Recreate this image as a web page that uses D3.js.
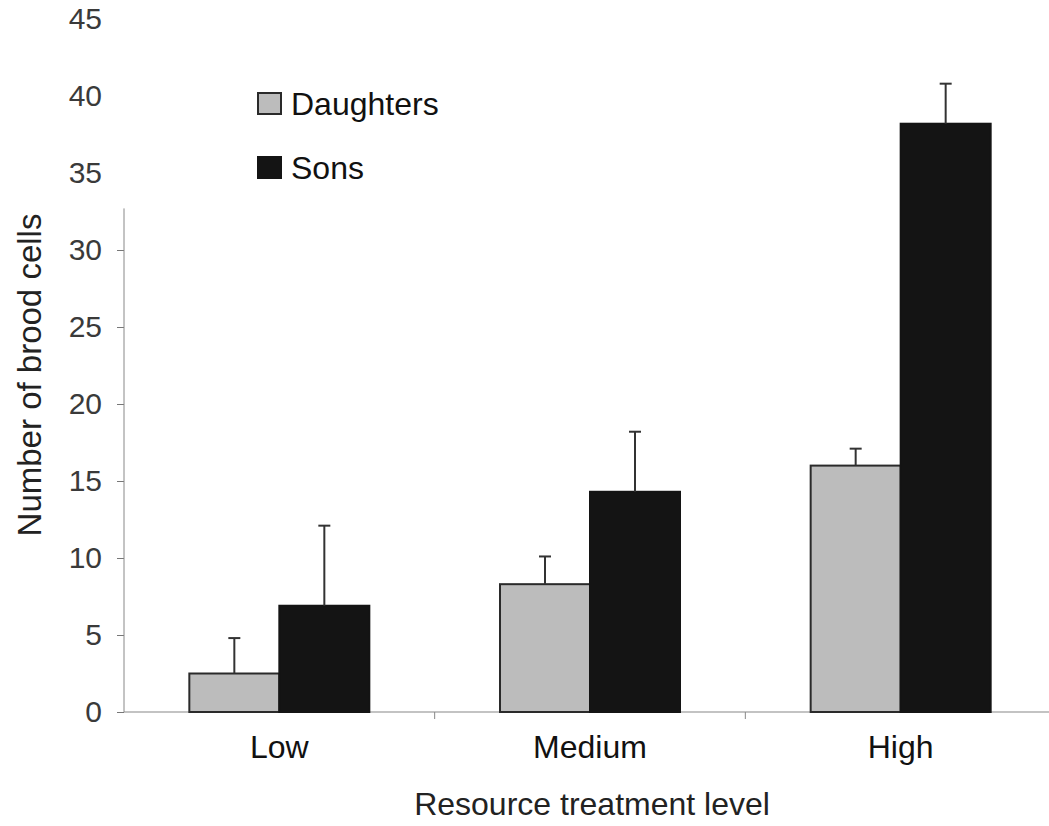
<!DOCTYPE html>
<html>
<head>
<meta charset="utf-8" />
<style>
    body { margin: 0; background: #fff; }
    svg text { font-family: "Liberation Sans", Arial, Helvetica, sans-serif; }
    .tick text { fill: #3a3a3a; font-size: 30px; }
    .axis-title { fill: #222; font-size: 32px; }
    .cat { fill: #111; font-size: 32px; }
    .legend text { fill: #111; font-size: 32px; }
</style>
</head>
<body>
<div id="chart"></div>
<script src="https://d3js.org/d3.v7.min.js"></script>
<script>
    var levels = ["Low", "Medium", "High"];
    var groups = ["Daughters", "Sons"];
    var daughters = [2.5, 8.3, 16.0];
    var daughtersErr = [4.8, 10.1, 17.1];
    var sons = [6.9, 14.3, 38.2];
    var sonsErr = [12.1, 18.2, 40.8];
    var yTicks = [0, 5, 10, 15, 20, 25, 30, 35, 40, 45];

    var width = 1049, height = 826;

    var svg = d3.select('#chart').append('svg')
        .attr('width', width)
        .attr('height', height);

    var x = d3.scaleBand()
        .domain(levels)
        .range([124, 1056])
        .padding(0);

    var y = d3.scaleLinear()
        .domain([0, 45])
        .range([712, 19]);

    var bw = x.bandwidth();
    var x1 = d3.scaleBand()
        .domain(groups)
        .range([bw / 2 - 90, bw / 2 + 90])
        .padding(0);

    var fills = { Daughters: '#bcbcbc', Sons: '#141414' };
    var strokes = { Daughters: '#2a2a2a', Sons: '#141414' };

    var rows = levels.map(function(l, i) {
        return [
            { level: l, group: 'Daughters', value: daughters[i], err: daughtersErr[i] },
            { level: l, group: 'Sons', value: sons[i], err: sonsErr[i] }
        ];
    });
    var flat = [].concat.apply([], rows);

    // y axis (the scan only shows tick marks up to 30)
    var yAxis = svg.append('g')
        .attr('transform', 'translate(124,0)')
        .call(d3.axisLeft(y).tickValues(yTicks).tickSize(7).tickPadding(15));
    yAxis.select('.domain').remove();
    yAxis.selectAll('.tick line')
        .attr('stroke', '#777')
        .style('display', function(d) { return d > 30 ? 'none' : null; });

    svg.append('line')
        .attr('x1', 124).attr('x2', 124)
        .attr('y1', y(32.7)).attr('y2', y(0))
        .attr('stroke', '#888').attr('stroke-width', 1);

    // x axis
    var xAxis = svg.append('g')
        .attr('transform', 'translate(0,' + y(0) + ')');
    xAxis.append('line')
        .attr('x1', 124).attr('x2', width)
        .attr('stroke', '#888').attr('stroke-width', 1.2);
    xAxis.selectAll('.sep')
        .data(levels.slice(1))
        .enter().append('line')
        .attr('class', 'sep')
        .attr('x1', function(d) { return x(d); })
        .attr('x2', function(d) { return x(d); })
        .attr('y1', 0).attr('y2', 7)
        .attr('stroke', '#888');
    xAxis.selectAll('.cat')
        .data(levels)
        .enter().append('text')
        .attr('class', 'cat')
        .attr('x', function(d) { return x(d) + bw / 2; })
        .attr('y', 46)
        .attr('text-anchor', 'middle')
        .text(function(d) { return d; });

    // bars
    svg.append('g').selectAll('rect')
        .data(flat)
        .enter().append('rect')
        .attr('x', function(d) { return x(d.level) + x1(d.group); })
        .attr('y', function(d) { return y(d.value); })
        .attr('width', x1.bandwidth())
        .attr('height', function(d) { return y(0) - y(d.value); })
        .attr('fill', function(d) { return fills[d.group]; })
        .attr('stroke', function(d) { return strokes[d.group]; })
        .attr('stroke-width', 2);

    // error bars (upper only)
    var eb = svg.append('g').selectAll('g')
        .data(flat)
        .enter().append('g')
        .attr('transform', function(d) {
            return 'translate(' + (x(d.level) + x1(d.group) + x1.bandwidth() / 2) + ',0)';
        });
    eb.append('line')
        .attr('y1', function(d) { return y(d.value); })
        .attr('y2', function(d) { return y(d.err); })
        .attr('stroke', '#333').attr('stroke-width', 2);
    eb.append('line')
        .attr('x1', -6).attr('x2', 6)
        .attr('y1', function(d) { return y(d.err); })
        .attr('y2', function(d) { return y(d.err); })
        .attr('stroke', '#333').attr('stroke-width', 2);

    // axis titles
    svg.append('text')
        .attr('class', 'axis-title')
        .attr('transform', 'translate(41,375) rotate(-90)')
        .attr('text-anchor', 'middle')
        .style('font-size', '33px')
        .text('Number of brood cells');

    svg.append('text')
        .attr('class', 'axis-title')
        .attr('x', 592)
        .attr('y', 815)
        .attr('text-anchor', 'middle')
        .text('Resource treatment level');

    // legend
    var legend = svg.selectAll('.legend')
        .data(groups)
        .enter().append('g')
        .attr('class', 'legend')
        .attr('transform', function(d, i) {
            return 'translate(258,' + (93 + i * 64) + ')';
        });
    legend.append('rect')
        .attr('width', 23).attr('height', 21)
        .attr('fill', function(d) { return fills[d]; })
        .attr('stroke', function(d) { return strokes[d]; })
        .attr('stroke-width', 2);
    legend.append('text')
        .attr('x', 33)
        .attr('y', 22)
        .text(function(d) { return d; });
</script>
</body>
</html>
